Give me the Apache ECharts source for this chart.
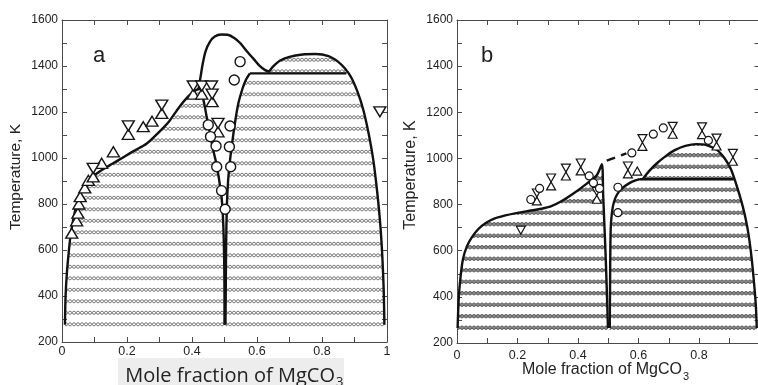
<!DOCTYPE html>
<html><head><meta charset="utf-8">
<script src="https://cdn.jsdelivr.net/npm/echarts@6/dist/echarts.min.js"></script>
<style>html,body{margin:0;padding:0;background:#fff}#c{width:758px;height:385px}</style>
</head><body><div id="c"></div>
<script>
// ---------- tick labels ----------
const xTicks = [0, 0.2, 0.4, 0.6, 0.8, 1];
const yTicks = [200, 400, 600, 800, 1000, 1200, 1400, 1600];

// ---------- panel a : phase boundaries ----------
const aSolvus = [[0.009,275],[0.011,400],[0.015,500],[0.02,580],[0.026,660],[0.033,720],[0.042,780],[0.053,830],[0.066,870],[0.082,900],[0.1,925],[0.125,950],[0.155,975],[0.185,1000],[0.22,1030],[0.26,1062],[0.3,1115],[0.33,1160],[0.36,1220],[0.39,1270],[0.413,1296],[0.425,1300],[0.437,1240],[0.445,1180],[0.455,1110],[0.466,1030],[0.476,970],[0.484,900],[0.491,830],[0.496,720],[0.499,560],[0.5,400],[0.5,275]];
const aDome = [[0.42,1300],[0.426,1350],[0.433,1410],[0.442,1465],[0.455,1505],[0.47,1528],[0.49,1537],[0.51,1536],[0.53,1522],[0.548,1500],[0.57,1462],[0.59,1430],[0.61,1398],[0.625,1382],[0.637,1375]];
const aInner = [[0.503,275],[0.504,450],[0.505,620],[0.507,780],[0.511,900],[0.517,990],[0.524,1070],[0.533,1160],[0.543,1240],[0.555,1300],[0.566,1340],[0.578,1368]];
const aFlat = [[0.578,1368],[0.875,1368]];
const aRight = [[0.637,1375],[0.65,1398],[0.67,1423],[0.7,1440],[0.74,1450],[0.78,1452],[0.82,1443],[0.85,1418],[0.87,1390],[0.89,1350],[0.91,1285],[0.927,1210],[0.943,1110],[0.958,990],[0.97,850],[0.98,700],[0.986,560],[0.99,420],[0.992,275]];
// panel a : experimental points
const aUp = [[0.03,673],[0.045,727],[0.049,760],[0.052,800],[0.056,832],[0.07,870],[0.081,903],[0.096,918],[0.122,977],[0.158,1027],[0.204,1103],[0.25,1136],[0.277,1160],[0.307,1194],[0.404,1278],[0.43,1278],[0.462,1245],[0.48,1114]];
const aDown = [[0.096,955],[0.204,1140],[0.307,1230],[0.404,1313],[0.43,1313],[0.46,1313],[0.462,1278],[0.48,1151],[0.978,1201]];
const aCircle = [[0.548,1419],[0.53,1339],[0.45,1144],[0.517,1139],[0.457,1093],[0.474,1052],[0.515,1049],[0.476,962],[0.519,962],[0.491,858],[0.502,777]];

// ---------- panel b : phase boundaries ----------
const bLeft = [[0.002,265],[0.006,400],[0.012,490],[0.02,565],[0.033,620],[0.05,660],[0.07,693],[0.095,720],[0.125,740],[0.16,753],[0.2,764],[0.24,773],[0.28,782],[0.31,792],[0.342,812],[0.385,848],[0.429,891],[0.462,927],[0.479,975],[0.483,850],[0.487,720],[0.491,590],[0.495,440],[0.499,265]];
const bDash = [[0.495,990],[0.56,1022]];
const bInner = [[0.505,265],[0.506,450],[0.507,620],[0.509,720],[0.515,790],[0.524,830],[0.535,855],[0.55,875],[0.57,893],[0.59,905],[0.605,910]];
const bFlat = [[0.605,910],[0.914,910]];
const bRight = [[0.615,912],[0.635,945],[0.66,978],[0.69,1010],[0.72,1036],[0.755,1054],[0.79,1062],[0.825,1058],[0.86,1036],[0.885,1000],[0.905,955],[0.925,880],[0.945,790],[0.96,700],[0.973,580],[0.982,460],[0.988,360],[0.991,265]];
// panel b : experimental points
const bUp = [[0.264,816],[0.311,881],[0.36,924],[0.409,946],[0.462,823],[0.565,933],[0.596,945],[0.613,1052],[0.713,1105],[0.81,1103],[0.858,1054],[0.912,988]];
const bDown = [[0.211,689],[0.264,850],[0.311,915],[0.36,958],[0.409,980],[0.462,857],[0.565,967],[0.613,1086],[0.713,1139],[0.81,1137],[0.858,1088],[0.912,1022]];
const bCircle = [[0.244,822],[0.273,870],[0.437,924],[0.451,894],[0.471,870],[0.532,875],[0.532,765],[0.578,1024],[0.649,1105],[0.682,1132],[0.831,1078]];

// ---------- layout ----------
const GA = {left:62, top:20, width:325, height:322};
const GB = {left:457, top:20, width:302.5, height:323};
const YMIN = 200, YMAX = 1600;

function hatchPattern(g, Tref, ring) {
  const sp = 11.5, H = 23;
  const yRef = g.top + (YMAX - Tref) / (YMAX - YMIN) * g.height;
  const ph = ((yRef % sp) + sp) % sp;
  const c = document.createElement('canvas');
  c.width = 4; c.height = H;
  const ctx = c.getContext('2d');
  for (let k = -2; k <= 3; k++) {
    const y = ph + k * sp;
    ctx.beginPath();
    ctx.arc(2, y, ring ? 1.55 : 1.75, 0, Math.PI * 2);
    if (ring) { ctx.fillStyle = '#fff'; ctx.fill(); ctx.strokeStyle = '#7a7a7a'; ctx.lineWidth = 1; ctx.stroke(); }
    else { ctx.fillStyle = '#8a8a8a'; ctx.fill(); ctx.strokeStyle = '#555'; ctx.lineWidth = 0.9; ctx.stroke(); }
  }
  return {image: c, repeat: 'repeat'};
}
const patA = hatchPattern(GA, 827, true);
const patB = hatchPattern(GB, 665, false);

function region(poly, ai, fill) {
  return {type:'custom', xAxisIndex:ai, yAxisIndex:ai, silent:true, z:1, data:[[0.5,800]],
    renderItem: function (params, api) {
      return {type:'polygon', shape:{points: poly.map(p => api.coord(p))}, style:{fill: fill, stroke: null}};
    }};
}
function curve(data, ai, dashed) {
  return {type:'line', xAxisIndex:ai, yAxisIndex:ai, data:data, showSymbol:false, symbol:'none', smooth:0.25, silent:true, z:3,
    lineStyle:{color:'#111', width:2.4, type: dashed ? [9,6] : 'solid'}};
}
function pts(data, ai, kind, big) {
  const s = {type:'scatter', xAxisIndex:ai, yAxisIndex:ai, data:data, silent:true, z:5,
    itemStyle:{color:'#fff', opacity:1, borderColor:'#151515', borderWidth: big ? 1.4 : 1.2}};
  if (kind === 'circle') { s.symbol = 'circle'; s.symbolSize = big ? 10 : 8; }
  else { s.symbol = 'triangle'; s.symbolSize = big ? [12,10] : [9,8]; if (kind === 'down') s.symbolRotate = 180; }
  return s;
}

const axisCol = '#4a4a4a';
const font = '"Liberation Sans", Arial, sans-serif';
function xAx(gi, pos, labels, hideOne) {
  return {type:'value', gridIndex:gi, position:pos, min:0, max:1, interval:0.2,
    axisLine:{show:true, onZero:false, lineStyle:{color:axisCol, width:1}},
    axisTick:{show:true, inside:true, length:5, lineStyle:{color:axisCol}},
    minorTick:{show:true, splitNumber:2, length:5, lineStyle:{color:axisCol}},
    splitLine:{show:false}, minorSplitLine:{show:false},
    axisLabel:{show:labels, margin: gi===0 ? 3 : 6, fontSize:12.5, color:'#222', fontFamily:font,
      formatter: v => (hideOne && v === 1) ? '' : String(v)}};
}
function yAx(gi, pos, labels) {
  return {type:'value', gridIndex:gi, position:pos, min:YMIN, max:YMAX, interval:200,
    axisLine:{show:true, onZero:false, lineStyle:{color:axisCol, width:1}},
    axisTick:{show:true, inside:true, length:5, lineStyle:{color:axisCol}},
    minorTick:{show:true, splitNumber:2, length:5, lineStyle:{color:axisCol}},
    splitLine:{show:false}, minorSplitLine:{show:false},
    axisLabel:{show:labels, margin:4, fontSize:12, color:'#222', fontFamily:font, formatter: v => String(v)}};
}

const hA1 = aSolvus.concat([[0.5,262],[0.009,262]]);
const hA2 = aInner.concat([[0.637,1368]], aRight, [[0.992,262],[0.503,262]]);
const hB1 = bLeft.concat([[0.499,252],[0.002,252]]);
const hB2 = bInner.concat([[0.615,910]], bRight, [[0.991,252],[0.505,252]]);

const chart = echarts.init(document.getElementById('c'), null, {renderer:'canvas', width:758, height:385});
chart.setOption({
  animation:false,
  backgroundColor:'#fff',
  grid:[
    Object.assign({containLabel:false, outerBoundsMode:'none'}, GA),
    Object.assign({containLabel:false, outerBoundsMode:'none'}, GB)
  ],
  xAxis:[xAx(0,'bottom',true,false), xAx(0,'top',false,false), xAx(1,'bottom',true,true), xAx(1,'top',false,false)],
  yAxis:[yAx(0,'left',true), yAx(0,'right',false), yAx(1,'left',true), yAx(1,'right',false)],
  series:[
    region(hA1,0,patA), region(hA2,0,patA), region(hB1,2,patB), region(hB2,2,patB),
    curve(aSolvus,0), curve(aDome,0), curve(aInner,0), curve(aFlat,0), curve(aRight,0),
    curve(bLeft,2), curve(bDash,2,true), curve(bInner,2), curve(bFlat,2), curve(bRight,2),
    pts(aUp,0,'up',true), pts(aDown,0,'down',true), pts(aCircle,0,'circle',true),
    pts(bUp,2,'up',false), pts(bDown,2,'down',false), pts(bCircle,2,'circle',false)
  ],
  graphic:[
    {type:'rect', z:-10, shape:{x:118, y:358, width:226, height:27}, style:{fill:'#ededed'}},
    {type:'text', x:335, y:376, style:{text:'Mole fraction of MgCO', font:'20px "Open Sans"', fill:'#222', align:'right', verticalAlign:'middle', textAlign:'right', textVerticalAlign:'middle'}},
    {type:'text', x:336, y:382, style:{text:'3', font:'13px "Open Sans"', fill:'#222', align:'left', verticalAlign:'middle', textAlign:'left', textVerticalAlign:'middle'}},
    {type:'text', x:682, y:370, style:{text:'Mole fraction of MgCO', font:'16px "Liberation Sans"', fill:'#222', align:'right', verticalAlign:'middle', textAlign:'right', textVerticalAlign:'middle'}},
    {type:'text', x:683, y:377, style:{text:'3', font:'11px "Liberation Sans"', fill:'#222', align:'left', verticalAlign:'middle', textAlign:'left', textVerticalAlign:'middle'}},
    {type:'text', x:16, y:177, rotation:Math.PI/2, style:{text:'Temperature, K', font:'15.5px "Liberation Sans"', fill:'#222', align:'center', verticalAlign:'middle', textAlign:'center', textVerticalAlign:'middle'}},
    {type:'text', x:411, y:175, rotation:Math.PI/2, style:{text:'Temperature, K', font:'16px "Liberation Sans"', fill:'#222', align:'center', verticalAlign:'middle', textAlign:'center', textVerticalAlign:'middle'}},
    {type:'text', x:99, y:56, style:{text:'a', font:'22px "Liberation Sans"', fill:'#222', align:'center', verticalAlign:'middle', textAlign:'center', textVerticalAlign:'middle'}},
    {type:'text', x:487, y:56, style:{text:'b', font:'22px "Liberation Sans"', fill:'#222', align:'center', verticalAlign:'middle', textAlign:'center', textVerticalAlign:'middle'}}
  ]
});
</script></body></html>
